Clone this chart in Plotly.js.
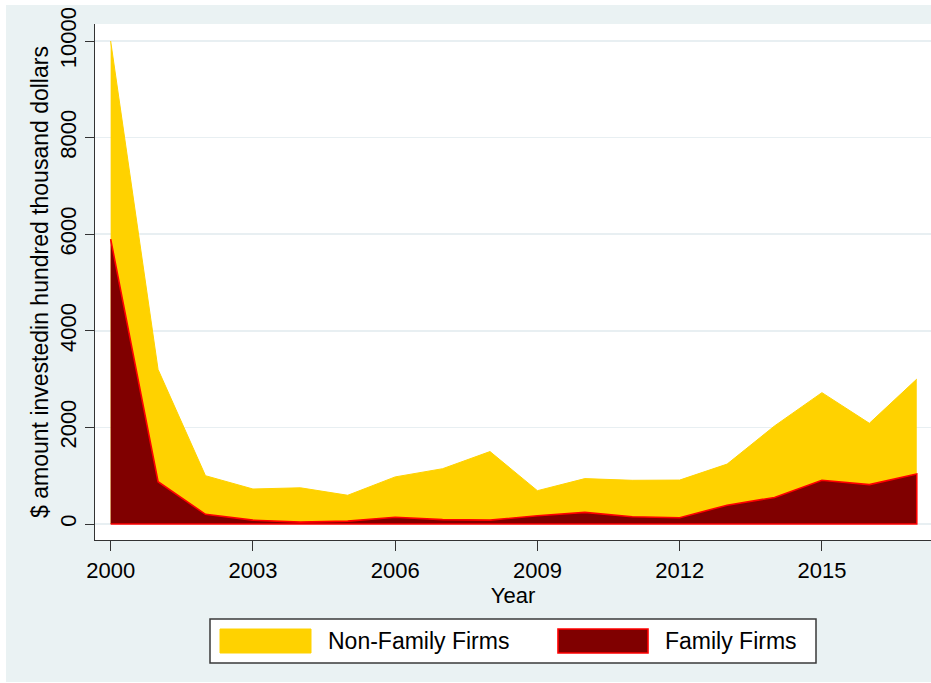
<!DOCTYPE html>
<html>
<head>
<meta charset="utf-8">
<script src="https://cdn.plot.ly/plotly-3.0.1.min.js"></script>
<style>
  html, body { margin: 0; padding: 0; background: #ffffff; }
  #chart { position: absolute; left: 6px; top: 5px; width: 925px; height: 677px; }
</style>
</head>
<body>
<div id="chart"></div>
<script>
// ---- data ----
const years = [2000, 2001, 2002, 2003, 2004, 2005, 2006, 2007, 2008, 2009,
               2010, 2011, 2012, 2013, 2014, 2015, 2016, 2017];
const nonFamilyFirms = [10000, 3200, 1000, 725, 750, 595, 975, 1145, 1500, 690,
                        940, 905, 910, 1240, 2030, 2720, 2085, 3000];
const familyFirms = [5900, 875, 200, 80, 40, 60, 140, 90, 80, 170,
                     240, 150, 130, 390, 550, 905, 815, 1035];
const seriesNames = ["Non-Family Firms", "Family Firms"];
const xTickVals = [2000, 2003, 2006, 2009, 2012, 2015];
const yTickVals = [0, 2000, 4000, 6000, 8000, 10000];
const yTitle = "$ amount investedin hundred thousand dollars";
const xTitle = "Year";

// ---- styles ----
const GOLD = "#FFD200";
const MAROON = "#800000";
const RED = "#FF0000";
const BG = "#EAF2F3";
const FONT = "Liberation Sans, Arial, sans-serif";

// closed polygon for family area (Stata draws full outline)
const famX = years.concat([years[years.length - 1], years[0]]);
const famY = familyFirms.concat([0, 0]);

const traces = [
  {
    x: years, y: nonFamilyFirms, name: seriesNames[0],
    type: "scatter", mode: "lines", fill: "tozeroy",
    fillcolor: GOLD, line: { color: GOLD, width: 1 },
    hoverinfo: "x+y"
  },
  {
    x: famX, y: famY, name: seriesNames[1],
    type: "scatter", mode: "lines", fill: "toself",
    fillcolor: MAROON, line: { color: RED, width: 1.6 },
    hoverinfo: "x+y"
  }
];

// pixel helpers (relative to the page) -> paper coords
const L = 95, R = 931, T = 24, B = 540;
const px = x => (x - L) / (R - L);
const py = y => (B - y) / (B - T);

const shapes = [
  // legend box
  { type: "rect", xref: "paper", yref: "paper", x0: px(210), x1: px(816), y0: py(663), y1: py(619),
    fillcolor: "#ffffff", line: { color: "#3a3a3a", width: 1.5 } },
  { type: "rect", xref: "paper", yref: "paper", x0: px(220), x1: px(311), y0: py(653), y1: py(629),
    fillcolor: GOLD, line: { color: GOLD, width: 1 } },
  { type: "rect", xref: "paper", yref: "paper", x0: px(558), x1: px(648), y0: py(653), y1: py(629),
    fillcolor: MAROON, line: { color: RED, width: 1.6 } }
];

const annotations = [
  { xref: "paper", yref: "paper", x: px(326), y: py(641), xanchor: "left", yanchor: "middle",
    text: seriesNames[0], showarrow: false, font: { family: FONT, size: 23, color: "#000" } },
  { xref: "paper", yref: "paper", x: px(663), y: py(641), xanchor: "left", yanchor: "middle",
    text: seriesNames[1], showarrow: false, font: { family: FONT, size: 23, color: "#000" } }
];

const layout = {
  width: 925, height: 677,
  paper_bgcolor: BG, plot_bgcolor: "#ffffff",
  margin: { l: L - 6, r: 0, t: T - 5, b: 682 - B, pad: 0 },
  showlegend: false,
  font: { family: FONT, size: 22, color: "#000" },
  xaxis: {
    range: [1999.67, 2017.3],
    tickmode: "array", tickvals: xTickVals, ticktext: xTickVals.map(String),
    ticks: "outside", ticklen: 10, tickwidth: 1, tickcolor: "#333",
    showline: true, linecolor: "#333", linewidth: 1.2,
    showgrid: false, zeroline: false,
    tickfont: { family: FONT, size: 22, color: "#000" },
    title: { text: xTitle, font: { family: FONT, size: 22, color: "#000" }, standoff: 1 }
  },
  yaxis: {
    range: [-331, 10352],
    tickmode: "array", tickvals: yTickVals, ticktext: yTickVals.map(String),
    tickangle: -90,
    ticks: "outside", ticklen: 9, tickwidth: 1, tickcolor: "#333",
    showline: true, linecolor: "#333", linewidth: 1.2,
    showgrid: true, gridcolor: "#E8EFF2", gridwidth: 1.5,
    zeroline: false,
    tickfont: { family: FONT, size: 22, color: "#000" },
    title: { text: yTitle, font: { family: FONT, size: 23, color: "#000" }, standoff: 1 }
  },
  shapes: shapes,
  annotations: annotations
};

Plotly.newPlot("chart", traces, layout, { displayModeBar: false, staticPlot: true });
</script>
</body>
</html>
